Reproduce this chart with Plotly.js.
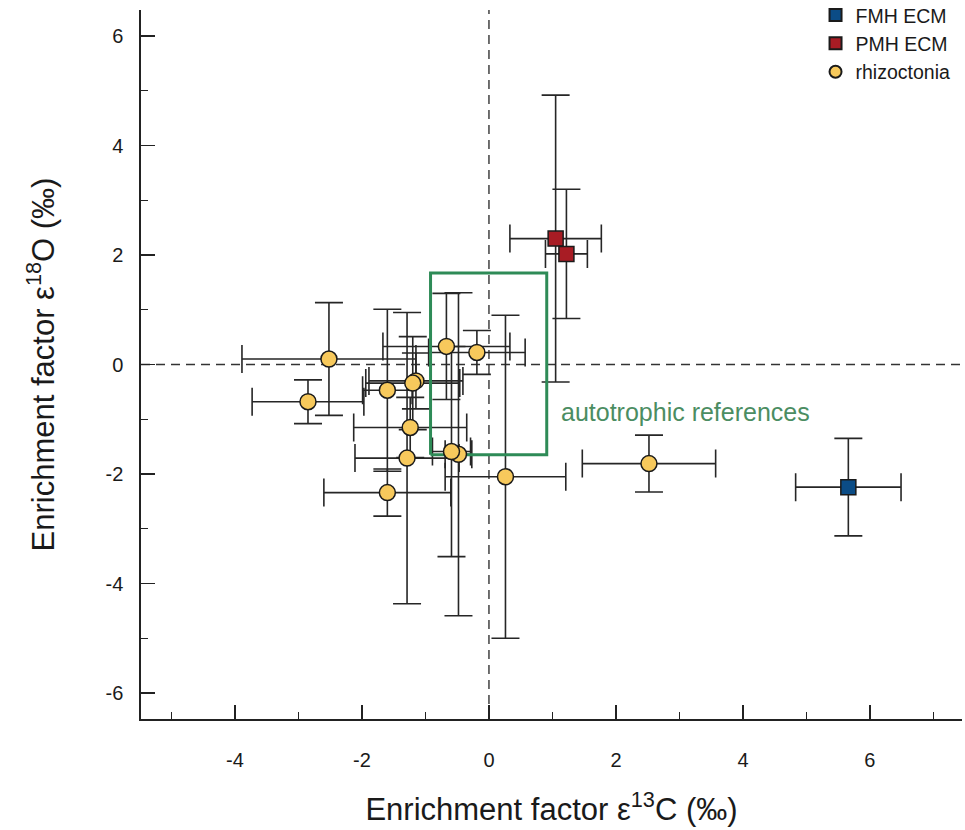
<!DOCTYPE html>
<html>
<head>
<meta charset="utf-8">
<script src="https://cdn.plot.ly/plotly-3.0.1.min.js"></script>
<style>
  html, body { margin: 0; padding: 0; background: #fff; }
  #chart { width: 965px; height: 830px; }
</style>
</head>
<body>
<div id="chart"></div>
<script>
// Isotope enrichment factors (‰) with standard deviations

// rhizoctonia-forming fungi
const rhizoX   = [-2.52, -2.85, -0.67, -0.19, -1.60, -1.15, -1.20, -1.24, -1.29, -0.48, -0.59, 0.26, -1.60, 2.52];
const rhizoY   = [0.10, -0.68, 0.33, 0.22, -0.47, -0.30, -0.34, -1.15, -1.71, -1.64, -1.59, -2.05, -2.34, -1.81];
const rhizoSdX = [1.37, 0.88, 1.00, 0.76, 0.39, 0.74, 0.74, 0.89, 0.82, 0.21, 0.30, 0.95, 1.00, 1.05];
const rhizoSdY = [1.03, 0.40, 0.97, 0.40, 1.48, 0.51, 0.85, 0.55, 2.66, 2.95, 1.92, 2.95, 0.43, 0.52];

// partially mycoheterotrophic ectomycorrhizal orchids
const pmhX   = [1.05, 1.22];
const pmhY   = [2.30, 2.02];
const pmhSdX = [0.72, 0.33];
const pmhSdY = [2.62, 1.18];

// fully mycoheterotrophic ectomycorrhizal orchids
const fmhX   = [5.66];
const fmhY   = [-2.24];
const fmhSdX = [0.83];
const fmhSdY = [0.89];

// autotrophic reference range
const refX = [-0.92, 0.91];
const refY = [-1.65, 1.67];

const xTicks = [-4, -2, 0, 2, 4, 6];
const yTicks = [-6, -4, -2, 0, 2, 4, 6];

const barColor = '#262626';
const errStyle = (arr) => ({
  type: 'data', array: arr, visible: true,
  color: barColor, thickness: 1.6, width: 14
});

// error bars only (drawn underneath the reference box)
function errTrace(x, y, sx, sy) {
  return {
    type: 'scatter', mode: 'markers', x: x, y: y,
    marker: {size: 2, opacity: 0},
    error_x: errStyle(sx), error_y: errStyle(sy),
    showlegend: false, hoverinfo: 'skip'
  };
}

// group markers (drawn on top)
function markTrace(x, y, name, symbol, color, rank) {
  return {
    type: 'scatter', mode: 'markers', x: x, y: y, name: name,
    legendrank: rank,
    marker: {symbol: symbol, size: symbol === 'square' ? 15 : 16, color: color,
             line: {color: '#1a1a1a', width: 1.5}}
  };
}

const boxTrace = {
  type: 'scatter', mode: 'lines',
  x: [refX[0], refX[1], refX[1], refX[0], refX[0]],
  y: [refY[0], refY[0], refY[1], refY[1], refY[0]],
  line: {color: '#2e8b57', width: 3},
  showlegend: false, hoverinfo: 'skip'
};

const data = [
  errTrace(rhizoX, rhizoY, rhizoSdX, rhizoSdY),
  errTrace(pmhX, pmhY, pmhSdX, pmhSdY),
  errTrace(fmhX, fmhY, fmhSdX, fmhSdY),
  boxTrace,
  markTrace(rhizoX, rhizoY, 'rhizoctonia', 'circle', '#f7c95c', 3),
  markTrace(pmhX, pmhY, 'PMH ECM', 'square', '#a81c24', 2),
  markTrace(fmhX, fmhY, 'FMH ECM', 'square', '#0b4c86', 1)
];

const axisCommon = {
  showgrid: false, zeroline: false, showline: true,
  linecolor: '#222', linewidth: 1.6,
  ticks: 'inside', ticklen: 14, tickwidth: 1.4, tickcolor: '#222',
  tickfont: {family: 'Liberation Sans, Arial, sans-serif', size: 20, color: '#1a1a1a'},
  tickmode: 'array',
  minor: {ticks: 'inside', ticklen: 7, tickwidth: 1.4, tickcolor: '#222', dtick: 1, tick0: 0, showgrid: false},
  fixedrange: true
};

const layout = {
  width: 965, height: 830,
  margin: {l: 141, r: 3, t: 10, b: 111, autoexpand: false},
  paper_bgcolor: '#fff', plot_bgcolor: '#fff',
  font: {family: 'Liberation Sans, Arial, sans-serif', color: '#1a1a1a'},
  showlegend: true,
  legend: {
    x: 0.8216, y: 1.02, xanchor: 'left', yanchor: 'top',
    bgcolor: 'rgba(0,0,0,0)', itemsizing: 'constant',
    font: {size: 19.5, color: '#1a1a1a'}
  },
  xaxis: Object.assign({}, axisCommon, {
    range: [-5.48, 7.45],
    tickvals: xTicks, ticktext: xTicks.map(String),
    ticklabelstandoff: 22,
    title: {text: 'Enrichment factor ε<sup>13</sup>C (‰)', standoff: 29,
            font: {size: 31, color: '#1a1a1a'}}
  }),
  yaxis: Object.assign({}, axisCommon, {
    range: [-6.475, 6.475],
    tickvals: yTicks, ticktext: yTicks.map(String),
    ticklabelstandoff: 12,
    title: {text: 'Enrichment factor ε<sup>18</sup>O (‰)', standoff: 42,
            font: {size: 31, color: '#1a1a1a'}}
  }),
  shapes: [
    {type: 'line', layer: 'below', xref: 'x', yref: 'paper', x0: 0, x1: 0, y0: 0, y1: 1,
     line: {color: '#333', width: 1.4, dash: '9px,6px'}},
    {type: 'line', layer: 'below', xref: 'paper', yref: 'y', x0: 0, x1: 1, y0: 0, y1: 0,
     line: {color: '#333', width: 1.4, dash: '9px,6px'}}
  ],
  annotations: [
    {text: 'autotrophic references', xref: 'x', yref: 'y', x: 1.10, y: -0.87,
     xanchor: 'left', yanchor: 'middle', showarrow: false,
     font: {size: 25, color: '#4b8d62'}}
  ]
};

Plotly.newPlot('chart', data, layout, {displayModeBar: false, staticPlot: true});
</script>
</body>
</html>
